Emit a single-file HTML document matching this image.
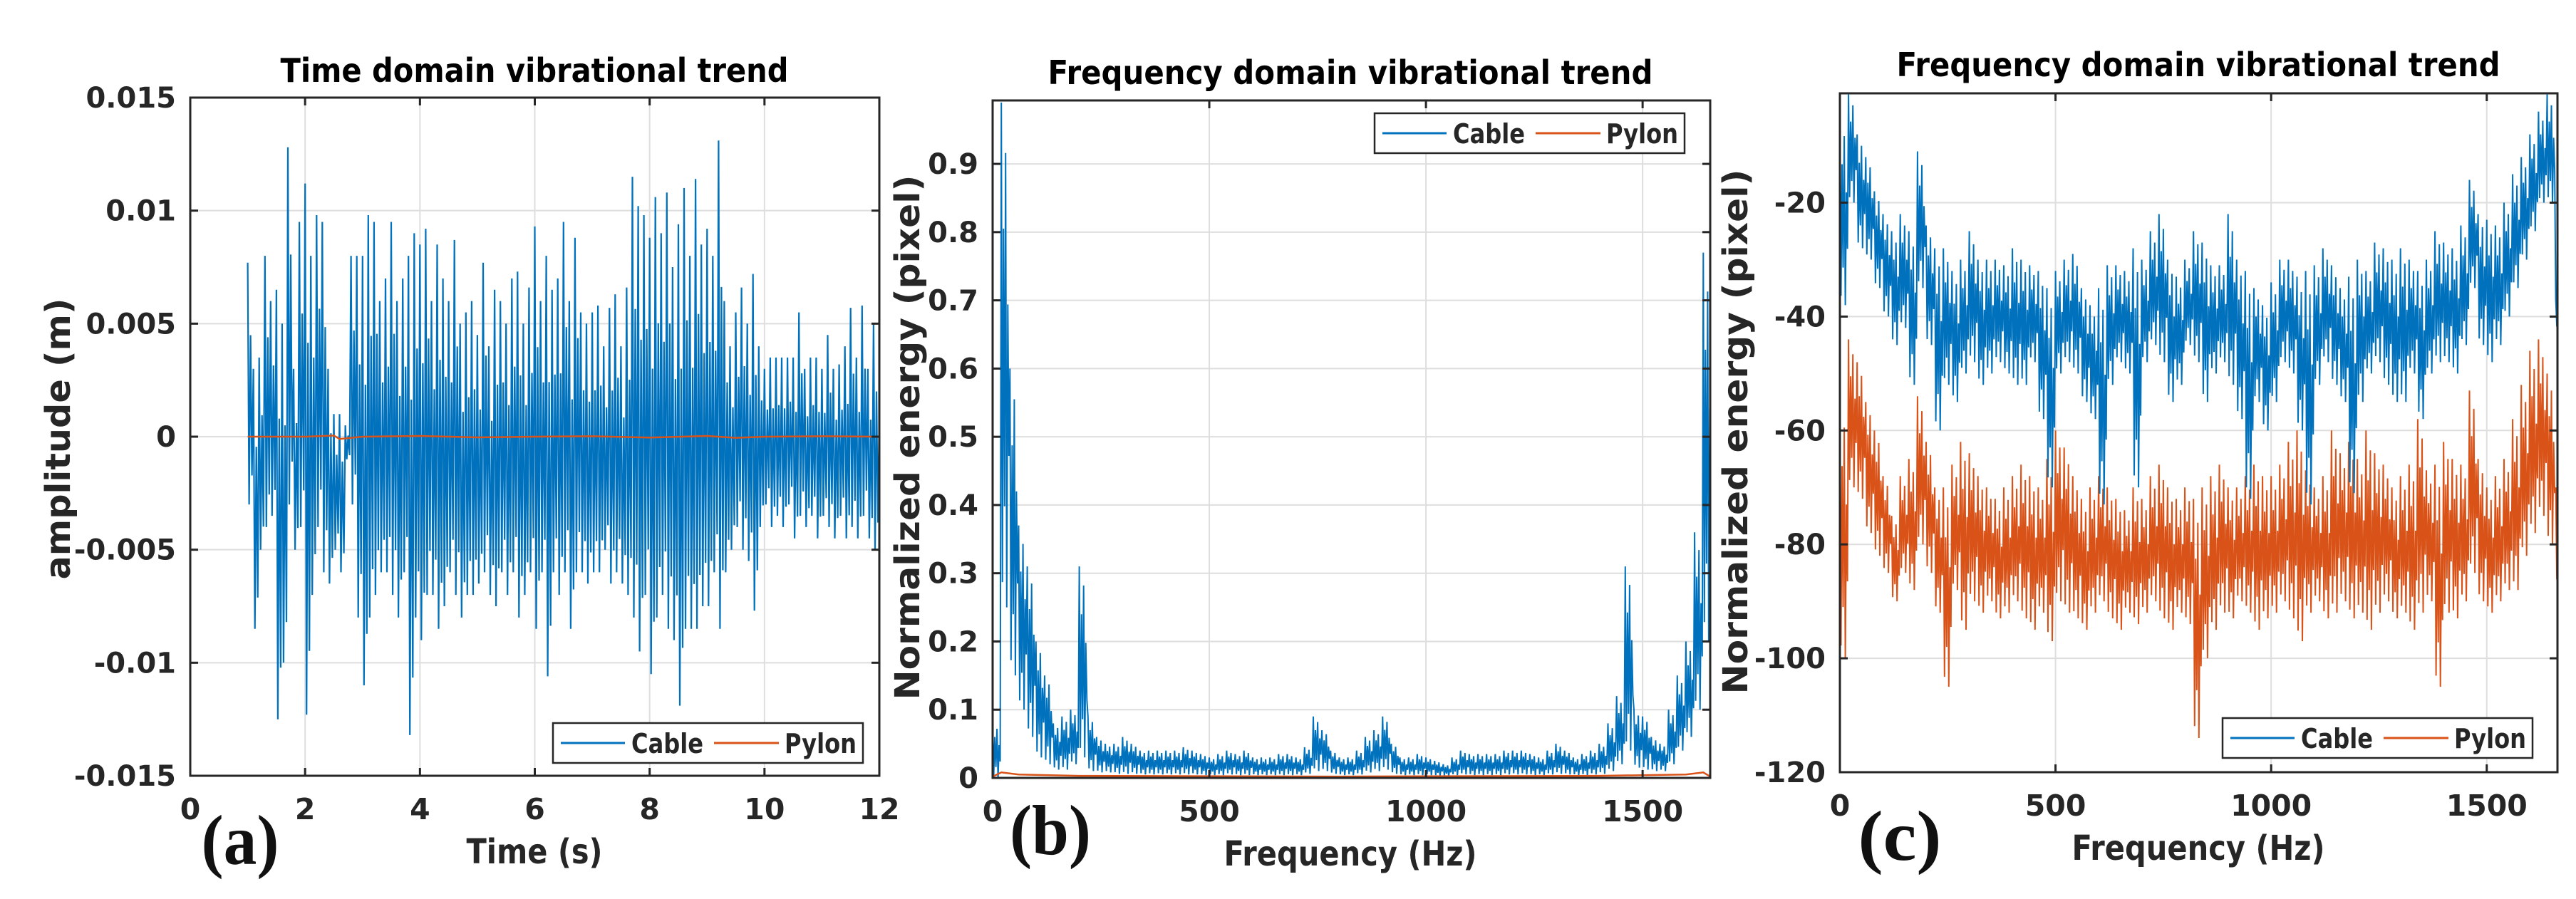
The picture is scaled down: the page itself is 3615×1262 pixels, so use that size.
<!DOCTYPE html>
<html><head><meta charset="utf-8">
<style>
html,body{margin:0;padding:0;background:#fff;}
svg{display:block;}
text{font-family:"DejaVu Sans","Liberation Sans",sans-serif;font-weight:bold;fill:#262626;}
.ttl{fill:#000;}
.lbl{font-family:"Liberation Serif",serif;fill:#111;}
</style></head>
<body>
<svg id="fig" width="3615" height="1262" viewBox="0 0 3615 1262" xmlns="http://www.w3.org/2000/svg">
<rect width="3615" height="1262" fill="#fff"/>
</svg>
<script>
// ---------- Panel (a): time domain, amplitude in mm (x 0.001 m), bins at 0.1 s from 1.0 to 12.0 ----------
const aTimeStart = 1.0;
const aTimeStep = 0.1;
const aCableHi = [7.7,3,3.5,8,6,6.5,5,12.8,3,9.5,11.2,8,9.8,9.5,3,1,1,0.5,8,8,8,9.8,9.5,6,7,9.5,6,7,8,9,8.5,9.2,6,8.5,7,6,8.7,5,5.5,6,4.5,7.7,4,6.5,6,5,7,7.3,5,6.6,9.3,6,8,6.5,7,9.5,6,8.8,5.5,5,5.5,5.8,4,5.7,6.3,4,6.6,11.5,10.2,9.8,8.8,10.6,9,10.8,7.5,9.4,11,8,11.4,8.5,9.2,8,13.1,6,4,5.5,6.6,5,7.2,4,3,3.5,3.5,3.5,3.5,3.5,5.5,3,3.5,3.5,3,4.5,3,3.2,4,5.7,3.5,5.8,3,5,1];
const aCableLo = [-3,-8.5,-5,-4,-3.5,-12.5,-10,-3,-5,-4,-12.3,-7,-4,-6,-6.5,-5,-6,-1,-3,-8,-11,-8,-7,-6,-6,-7,-8,-6,-13.2,-8,-9,-7,-7,-8.5,-7.5,-6,-7,-8,-7,-7,-6.5,-6,-7,-7.5,-6,-7,-6,-8,-7,-6,-8.5,-6,-10.6,-6,-7,-6,-8.5,-6,-6,-6.5,-6,-6,-5,-6.5,-6,-6.5,-7,-8,-9.5,-7,-10.5,-8,-7,-8.5,-9,-11.9,-8.5,-8.5,-8.5,-7.5,-7.5,-6,-8.5,-6,-5,-4,-5,-5.5,-7.7,-4,-3,-4,-3.5,-4,-3,-4.5,-3.5,-4,-3.5,-4.5,-3.5,-4,-4.5,-3.5,-4.5,-4,-4.5,-3.5,-4.5,-5,-2];
const aPylonT = [1,2,2.5,2.6,3,4,5,6,7,8,9,9.5,10,11,12];
const aPylon = [0,0,0.05,-0.1,0,0.03,-0.03,0,0.02,-0.04,0.03,-0.05,0,0.02,0];
const aXTicks = [0,2,4,6,8,10,12];
const aYTicks = [-0.015,-0.01,-0.005,0,0.005,0.01,0.015];
const aYTickLabels = ["-0.015","-0.01","-0.005","0","0.005","0.01","0.015"];

// ---------- Panel (b): normalized energy, bins at 20 Hz ----------
const bFreqStep = 20;
const bCableHi = [0.08,0.99,0.6,0.37,0.31,0.2,0.15,0.08,0.09,0.1,0.31,0.09,0.06,0.05,0.05,0.06,0.05,0.04,0.04,0.04,0.04,0.04,0.045,0.04,0.035,0.03,0.035,0.04,0.035,0.04,0.03,0.03,0.03,0.035,0.035,0.03,0.045,0.09,0.07,0.04,0.03,0.03,0.04,0.06,0.07,0.09,0.05,0.03,0.03,0.035,0.03,0.025,0.02,0.03,0.04,0.035,0.035,0.035,0.035,0.04,0.04,0.04,0.035,0.03,0.04,0.05,0.04,0.03,0.035,0.04,0.05,0.08,0.12,0.31,0.1,0.09,0.06,0.05,0.1,0.15,0.2,0.36,0.77,0.99];
const bCableLo = [0,0.25,0.15,0.1,0.06,0.03,0.02,0.012,0.012,0.02,0.03,0.01,0.008,0.008,0.006,0.006,0.006,0.005,0.005,0.005,0.005,0.005,0.005,0.005,0.004,0.004,0.004,0.005,0.004,0.004,0.004,0.004,0.004,0.004,0.004,0.004,0.006,0.01,0.01,0.006,0.004,0.004,0.005,0.008,0.01,0.012,0.006,0.004,0.004,0.004,0.004,0.003,0.003,0.004,0.005,0.004,0.004,0.004,0.004,0.005,0.005,0.005,0.004,0.004,0.005,0.006,0.005,0.004,0.004,0.005,0.006,0.01,0.02,0.04,0.015,0.012,0.01,0.01,0.02,0.04,0.06,0.1,0.2,0.25];
const bPylonF = [0,20,60,200,800,1400,1600,1640,1656];
const bPylon = [0.002,0.008,0.005,0.003,0.002,0.003,0.005,0.008,0.002];
const bXTicks = [0,500,1000,1500];
const bYTicks = [0,0.1,0.2,0.3,0.4,0.5,0.6,0.7,0.8,0.9];

// ---------- Panel (c): dB spectrum, bins at 20 Hz ----------
const cFreqStep = 20;
const cCableHi = [-5,-1,-8,-12,-18,-22,-25,-22,-25,-11,-24,-28,-28,-32,-30,-25,-30,-30,-30,-31,-28,-30,-31,-32,-35,-32,-30,-29,-35,-38,-35,-31,-31,-32,-28,-30,-25,-22,-30,-33,-30,-25,-27,-31,-31,-22,-30,-32,-35,-38,-34,-30,-30,-33,-32,-31,-28,-31,-35,-33,-30,-32,-27,-28,-30,-28,-30,-32,-30,-25,-27,-28,-24,-16,-22,-23,-24,-20,-15,-12,-8,-4,-1,-37];
const cCableLo = [-38,-20,-28,-30,-35,-40,-45,-42,-52,-35,-45,-60,-52,-55,-50,-48,-52,-50,-48,-50,-52,-52,-48,-58,-70,-50,-48,-50,-55,-58,-73,-52,-48,-50,-70,-48,-45,-48,-55,-52,-45,-48,-55,-50,-48,-52,-58,-72,-55,-60,-55,-48,-50,-60,-73,-52,-48,-52,-55,-71,-55,-50,-48,-52,-55,-55,-50,-58,-50,-48,-48,-50,-45,-35,-45,-48,-45,-40,-35,-30,-25,-20,-20,-42];
const cPylonHi = [-55,-44,-48,-55,-60,-68,-75,-68,-65,-54,-62,-70,-70,-66,-62,-64,-68,-70,-72,-70,-68,-66,-68,-70,-65,-60,-63,-68,-72,-70,-68,-70,-72,-74,-70,-72,-68,-66,-70,-72,-70,-72,-70,-68,-66,-70,-70,-68,-66,-68,-68,-66,-62,-60,-67,-70,-68,-60,-64,-62,-65,-60,-64,-66,-70,-68,-66,-58,-67,-66,-62,-65,-66,-53,-65,-70,-68,-65,-58,-52,-46,-44,-50,-70];
const cPylonLo = [-100,-70,-72,-78,-82,-85,-90,-85,-88,-80,-85,-92,-105,-88,-95,-90,-92,-90,-93,-92,-90,-93,-95,-92,-97,-90,-92,-93,-95,-92,-90,-93,-95,-92,-94,-92,-90,-93,-95,-92,-94,-114,-100,-95,-92,-93,-90,-92,-95,-93,-92,-90,-93,-97,-92,-90,-93,-92,-90,-93,-92,-95,-92,-90,-93,-92,-95,-92,-90,-105,-92,-93,-90,-85,-90,-92,-90,-88,-88,-82,-78,-75,-80,-87];
const cXTicks = [0,500,1000,1500];
const cYTicks = [-120,-100,-80,-60,-40,-20];

const NS = "http://www.w3.org/2000/svg";
const svg = document.getElementById('fig');
const BLUE = "#0072BD", ORANGE = "#D95319";
const PATTERN4 = [1,0,0.7,0.12];
const PATTERN8 = [1,0.05,0.75,0.2,0.9,0,0.6,0.3];

function mk(tag, attrs, parent){
  const e = document.createElementNS(NS, tag);
  for (const k in attrs) e.setAttribute(k, attrs[k]);
  (parent||svg).appendChild(e);
  return e;
}
function scale(d0,d1,r0,r1){ return v => r0 + (v-d0)/(d1-d0)*(r1-r0); }

function axesFrame(P, id){
  const g = mk('g', {});
  
  
  mk('rect',{x:P.x0,y:P.y0,width:P.x1-P.x0,height:P.y1-P.y0,fill:'#fff'},g);
  P.xticks.forEach(v=>{
    const x = P.sx(v);
    const l = mk('line',{x1:x,x2:x,y1:P.y0,y2:P.y1,stroke:'#dedede','stroke-width':2},g);
    
    
  });
  P.yticks.forEach(v=>{
    const y = P.sy(v);
    const l = mk('line',{x1:P.x0,x2:P.x1,y1:y,y2:y,stroke:'#dedede','stroke-width':2},g);
    
    
  });
  const cp = mk('clipPath',{id:'clip-'+id});
  mk('rect',{x:P.x0,y:P.y0,width:P.x1-P.x0,height:P.y1-P.y0},cp);
  const plot = mk('g',{'clip-path':'url(#clip-'+id+')'});
  
  
  return plot;
}
function axesBox(P, id, xlabels, ylabels){
  const g = mk('g',{});
  
  
  mk('rect',{x:P.x0,y:P.y0,width:P.x1-P.x0,height:P.y1-P.y0,fill:'none',stroke:'#262626','stroke-width':3},g);
  P.xticks.forEach((v,i)=>{
    const x = P.sx(v);
    mk('line',{x1:x,x2:x,y1:P.y1,y2:P.y1-11,stroke:'#262626','stroke-width':3},g);
    mk('line',{x1:x,x2:x,y1:P.y0,y2:P.y0+11,stroke:'#262626','stroke-width':3},g);
    const t = mk('text',{x:x,y:P.y1+61,'font-size':41,'text-anchor':'middle'},g);
    t.textContent = xlabels[i];
    
    
  });
  P.yticks.forEach((v,i)=>{
    const y = P.sy(v);
    mk('line',{x1:P.x0,x2:P.x0+11,y1:y,y2:y,stroke:'#262626','stroke-width':3},g);
    mk('line',{x1:P.x1,x2:P.x1-11,y1:y,y2:y,stroke:'#262626','stroke-width':3},g);
    const t = mk('text',{x:P.x0-20,y:y+14,'font-size':40,'text-anchor':'end'},g);
    t.textContent = ylabels[i];
    
    
  });
}
function band(plot, P, xs, hi, lo, color, name, pattern, width){
  let d = '';
  const n = pattern.length;
  for (let i=0;i<hi.length;i++){
    const xa = xs(i), xb = xs(i+1);
    const step = (xb-xa)/n;
    const h = hi[i], l = lo[i];
    pattern.forEach((f,k)=>{
      const v = l + (h-l)*f;
      d += (d===''?'M':'L') + (xa+k*step).toFixed(1) + ',' + P.sy(v).toFixed(1);
    });
  }
  const p = mk('path',{d:d,fill:'none',stroke:color,'stroke-width':width,'stroke-linejoin':'miter'},plot);
  
  
}
function line(plot, P, xv, yv, color, name){
  let d='';
  xv.forEach((x,i)=>{ d += (i?'L':'M') + P.sx(x).toFixed(1)+','+P.sy(yv[i]).toFixed(1); });
  const p = mk('path',{d:d,fill:'none',stroke:color,'stroke-width':2.5},plot);
  
  
}
function legend(x, y, id){
  const g = mk('g',{});
  
  
  mk('rect',{x:x,y:y,width:435,height:56,fill:'#fff',stroke:'#262626','stroke-width':2.5},g);
  const e1 = mk('g',{},g);
  
  
  mk('line',{x1:x+11,x2:x+101,y1:y+28,y2:y+28,stroke:BLUE,'stroke-width':3},e1);
  const t1 = mk('text',{x:x+110,y:y+42,'font-size':38,textLength:101,lengthAdjust:'spacingAndGlyphs'},e1);
  t1.textContent = 'Cable';
  const e2 = mk('g',{},g);
  
  
  mk('line',{x1:x+226,x2:x+317,y1:y+28,y2:y+28,stroke:ORANGE,'stroke-width':3},e2);
  const t2 = mk('text',{x:x+325,y:y+42,'font-size':38,textLength:101,lengthAdjust:'spacingAndGlyphs'},e2);
  t2.textContent = 'Pylon';
}
function txt(str, x, y, size, len, cls, name, rot){
  const a = {x:x,y:y,'font-size':size,'text-anchor':'middle',textLength:len,lengthAdjust:'spacingAndGlyphs'};
  if (cls) a['class']=cls;
  if (rot) a.transform = 'rotate(-90 '+x+' '+y+')';
  const t = mk('text',a);
  t.textContent = str;
  
  
}

// ----- Panel A -----
const PA = {x0:267,x1:1234,y0:137,y1:1089,xticks:aXTicks,yticks:aYTicks};
PA.sx = scale(0,12,PA.x0,PA.x1); PA.sy = scale(-0.015,0.015,PA.y1,PA.y0);
const plotA = axesFrame(PA,'a');
const PAmm = Object.assign({},PA); PAmm.sy = v => PA.sy(v/1000);
band(plotA, PAmm, i=>PA.sx(aTimeStart+i*aTimeStep), aCableHi, aCableLo, BLUE, 'cable-series', PATTERN4, 2.2);
line(plotA, PAmm, aPylonT, aPylon, ORANGE, 'pylon-series');
axesBox(PA,'a', aXTicks.map(String), aYTickLabels);
legend(776,1015,'a');
txt('Time domain vibrational trend', 750, 115, 46, 713, 'ttl', 'chart-title-a');
txt('Time (s)', 750, 1212, 48, 191, '', 'x-axis-title-a');
txt('amplitude (m)', 98, 616, 48, 395, '', 'y-axis-title-a', true);
txt('(a)', 337, 1213, 100, 109, 'lbl', 'panel-label-a');

// ----- Panel B -----
const PB = {x0:1393,x1:2400,y0:141,y1:1092,xticks:bXTicks,yticks:bYTicks};
PB.sx = scale(0,1656,PB.x0,PB.x1); PB.sy = scale(0,0.993,PB.y1,PB.y0);
const plotB = axesFrame(PB,'b');
band(plotB, PB, i=>PB.sx(i*bFreqStep), bCableHi, bCableLo, BLUE, 'cable-series', PATTERN8, 2);
line(plotB, PB, bPylonF, bPylon, ORANGE, 'pylon-series');
axesBox(PB,'b', bXTicks.map(String), bYTicks.map(v=>String(v)));
legend(1929,159,'b');
txt('Frequency domain vibrational trend', 1895, 118, 46, 849, 'ttl', 'chart-title-b');
txt('Frequency (Hz)', 1895, 1215, 48, 355, '', 'x-axis-title-b');
txt('Normalized energy (pixel)', 1290, 614, 48, 737, '', 'y-axis-title-b', true);
txt('(b)', 1474, 1199, 100, 114, 'lbl', 'panel-label-b');

// ----- Panel C -----
const PC = {x0:2582,x1:3589,y0:131,y1:1084,xticks:cXTicks,yticks:cYTicks};
PC.sx = scale(0,1664,PC.x0,PC.x1); PC.sy = scale(-120,-0.8,PC.y1,PC.y0);
const plotC = axesFrame(PC,'c');
band(plotC, PC, i=>PC.sx(i*cFreqStep), cPylonHi, cPylonLo, ORANGE, 'pylon-series', PATTERN8, 2);
band(plotC, PC, i=>PC.sx(i*cFreqStep), cCableHi, cCableLo, BLUE, 'cable-series', PATTERN8, 2);
axesBox(PC,'c', cXTicks.map(String), cYTicks.map(String));
legend(3119,1008,'c');
txt('Frequency domain vibrational trend', 3085, 107, 46, 847, 'ttl', 'chart-title-c');
txt('Frequency (Hz)', 3085, 1207, 48, 355, '', 'x-axis-title-c');
txt('Normalized energy (pixel)', 2452, 606, 48, 737, '', 'y-axis-title-c', true);
txt('(c)', 2666, 1207, 100, 117, 'lbl', 'panel-label-c');
</script>
</body></html>
